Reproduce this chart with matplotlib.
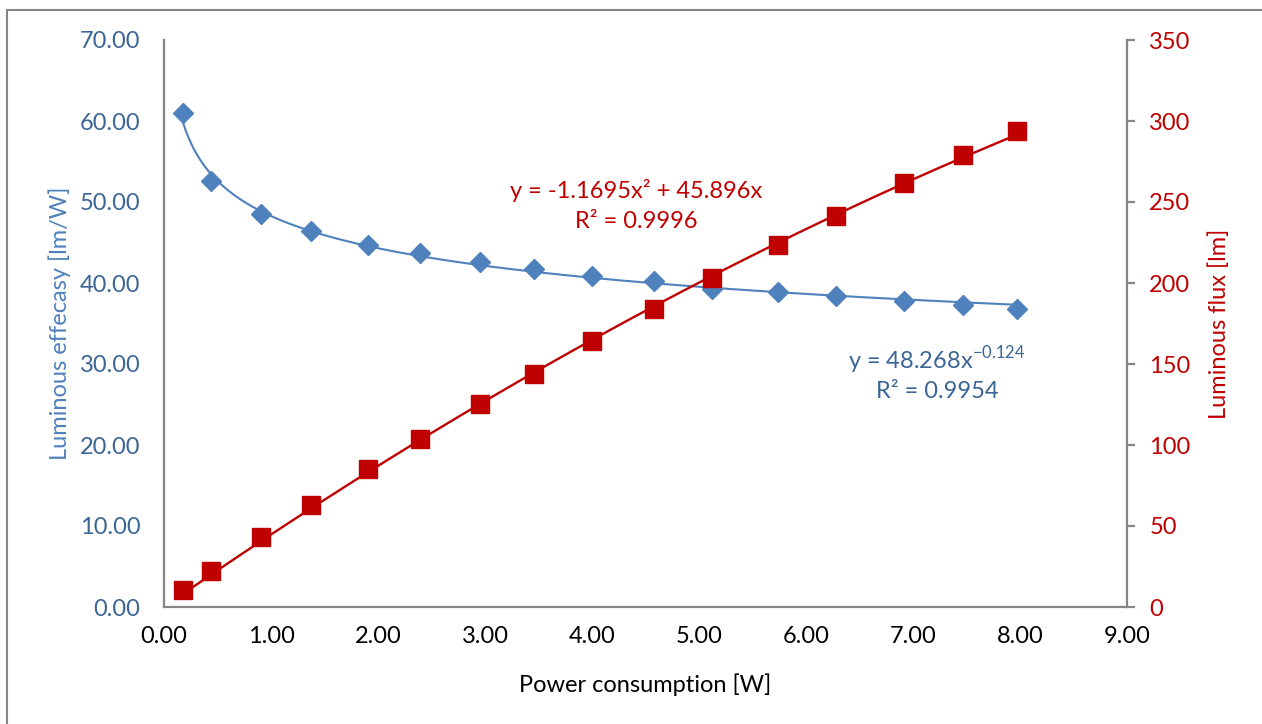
import numpy as np
import matplotlib
matplotlib.use("Agg")
import matplotlib.pyplot as plt
from matplotlib.patches import Rectangle

plt.rcParams['font.family'] = ['Lato', 'DejaVu Sans']

power = [0.18, 0.44, 0.91, 1.37, 1.91, 2.39, 2.95, 3.46, 4.00, 4.58, 5.12, 5.74, 6.28, 6.92, 7.47, 7.97]
efficacy = [60.95, 52.6, 48.5, 46.4, 44.7, 43.7, 42.6, 41.7, 40.9, 40.2, 39.3, 38.85, 38.4, 37.8, 37.3, 36.8]
flux = [10.3, 22.0, 43.0, 62.8, 85.0, 103.5, 125.1, 143.8, 164.2, 184.0, 203.3, 223.5, 241.4, 261.5, 279.0, 293.6]

pow_a, pow_b = 48.268, -0.124
poly_a, poly_b = -1.1695, 45.896

x_ticks = [0, 1, 2, 3, 4, 5, 6, 7, 8, 9]
left_ticks = [0, 10, 20, 30, 40, 50, 60, 70]
right_ticks = [0, 50, 100, 150, 200, 250, 300, 350]

BLUE = '#4F81BD'
BLUE_DK = '#3B6596'
RED = '#C00000'
GRAY = '#868686'

fig = plt.figure(figsize=(12.62, 7.24), dpi=100)
fig.patches.append(Rectangle((7/1262, -0.1), 1.2, 1 - 10/724 + 0.1, transform=fig.transFigure,
                             fill=False, edgecolor=GRAY, linewidth=1.5))

ax = fig.add_axes([164/1262, 1 - 607/724, (1127-164)/1262, (607-40)/724])
ax2 = ax.twinx()

xs = np.linspace(min(power), max(power), 300)
ax.plot(xs, pow_a * xs ** pow_b, color=BLUE, lw=1.5, zorder=2)
ax.plot(power, efficacy, linestyle='none', marker='D', ms=10.5, color=BLUE, mec=BLUE, zorder=3)

ax2.plot(xs, poly_a * xs ** 2 + poly_b * xs, color=RED, lw=1.7, zorder=2)
ax2.plot(power, flux, linestyle='none', marker='s', ms=13.5, color=RED, mec=RED, zorder=3)

ax.set_xlim(0, 9)
ax.set_ylim(0, 70)
ax2.set_ylim(0, 350)

ax.set_xticks(x_ticks)
ax.set_xticklabels([f"{v:.2f}" for v in x_ticks])
ax.set_yticks(left_ticks)
ax.set_yticklabels([f"{v:.2f}" for v in left_ticks])
ax2.set_yticks(right_ticks)
ax2.set_yticklabels([str(v) for v in right_ticks])

for a in (ax, ax2):
    for s in a.spines.values():
        s.set_visible(False)
ax.spines['left'].set_visible(True)
ax.spines['bottom'].set_visible(True)
ax2.spines['right'].set_visible(True)
for s in (ax.spines['left'], ax.spines['bottom'], ax2.spines['right']):
    s.set_color(GRAY)
    s.set_linewidth(1.6)

fs = 17
ax.tick_params(axis='x', length=0, pad=14, labelsize=fs, labelcolor='black')
ax.tick_params(axis='y', length=0, pad=17, labelsize=fs, labelcolor=BLUE_DK)
ax2.tick_params(axis='y', length=6, width=1.6, color=GRAY, pad=10, labelsize=fs, labelcolor=RED, direction='out')

ax.set_xlabel("Power consumption [W]", fontsize=fs, color='black', labelpad=19)
ax.set_ylabel("Luminous effecasy [lm/W]", fontsize=fs, color=BLUE, labelpad=6)
ax2.set_ylabel("Luminous flux [lm]", fontsize=fs, color=RED, labelpad=13)

ax.text(636/1262, 1 - 190/724, "y = -1.1695x² + 45.896x", transform=fig.transFigure,
        ha='center', va='center', fontsize=fs, color=RED)
ax.text(636/1262, 1 - 222/724, "R² = 0.9996", transform=fig.transFigure,
        ha='center', va='center', fontsize=fs, color=RED)
ax.text(937/1262, 1 - 360/724, r"y = 48.268x$^{\mathregular{-0.124}}$", transform=fig.transFigure,
        ha='center', va='center', fontsize=fs, color=BLUE_DK)
ax.text(937/1262, 1 - 392/724, "R² = 0.9954", transform=fig.transFigure,
        ha='center', va='center', fontsize=fs, color=BLUE_DK)

fig.savefig("out.png", dpi=100)
